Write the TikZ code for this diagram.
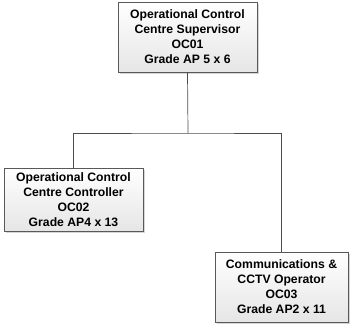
\documentclass[tikz,border=0pt]{standalone}
\usepackage{fontspec}
\setmainfont{Liberation Sans}
\usetikzlibrary{shadows}

\begin{document}
\begin{tikzpicture}[
  x=1pt, y=1pt,
  post/.style={draw=black!65, top color=white, bottom color=black!10,
    drop shadow={shadow xshift=2pt, shadow yshift=-2pt, fill=black!20, opacity=0.8},
    align=center, inner sep=0pt,
    font=\fontsize{12.2}{15}\selectfont\bfseries},
  link/.style={draw=black!70, line width=0.7pt},
]
\useasboundingbox (0,0) rectangle (353,326);

\node [post, minimum width=139, minimum height=70] (oc01) at (187.5,289)
  {Operational Control\\Centre Supervisor\\OC01\\Grade AP 5 x 6};
\node [post, minimum width=139, minimum height=63] (oc02) at (73.5,126.5)
  {Operational Control\\Centre Controller\\OC02\\Grade AP4 x 13};
\node [post, minimum width=133, minimum height=70] (oc03) at (281.5,39)
  {Communications \&\\CCTV Operator\\OC03\\Grade AP2 x 11};

\coordinate (bus) at (188,193);

\draw [link] (oc01.south) -- (bus);
\draw [link] (oc02.north) |- (bus) -| (oc03.north);

\end{tikzpicture}
\end{document}
